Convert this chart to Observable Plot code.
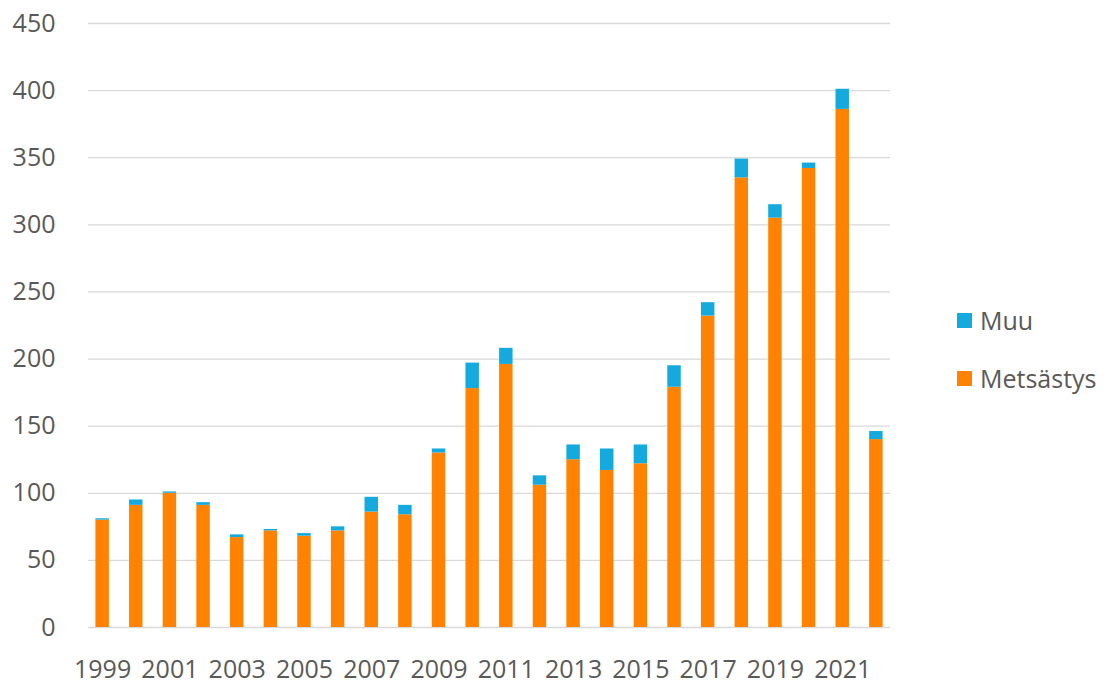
<!DOCTYPE html>
<html>
<head>
<meta charset="utf-8">
<script src="https://cdn.jsdelivr.net/npm/d3@7"></script>
<script src="https://cdn.jsdelivr.net/npm/@observablehq/plot@0.6"></script>
<style>
  body { margin: 0; background: #fff; font-family: "Open Sans", "Noto Sans", sans-serif; }
  #wrap { position: relative; width: 1111px; height: 684px; }
  #legend { position: absolute; left: 957px; top: 303px; color: #595959; font-size: 25px; }
  .item { display: flex; align-items: center; height: 34px; margin-bottom: 24px; }
  .sw { width: 15px; height: 15px; margin-right: 8px; }
</style>
</head>
<body>
<div id="wrap"><div id="chart"></div><div id="legend"></div></div>
<script>
const years = [1999,2000,2001,2002,2003,2004,2005,2006,2007,2008,2009,2010,2011,2012,2013,2014,2015,2016,2017,2018,2019,2020,2021,2022];
const metsastys = [80,91,100,91,67,72,68,72,86,84,130,178,196,106,125,117,122,179,232,335,305,342,386,140];
const muu = [1,4,1,2,2,1,2,3,11,7,3,19,12,7,11,16,14,16,10,14,10,4,15,6];
const series = ["Metsästys", "Muu"];
const colors = ["#ff8300", "#14aadd"];
const yTicks = [0,50,100,150,200,250,300,350,400,450];

const data = [];
years.forEach((y, i) => {
  data.push({year: y, cat: "Metsästys", value: metsastys[i]});
  data.push({year: y, cat: "Muu", value: muu[i]});
});

const chart = Plot.plot({
  width: 920,
  height: 684,
  marginLeft: 88,
  marginRight: 30,
  marginTop: 23,
  marginBottom: 57,
  style: {fontFamily: "'Open Sans', 'Noto Sans', sans-serif", fontSize: "25px", color: "#595959", background: "white"},
  x: {type: "band", domain: years, paddingInner: 0.6, paddingOuter: 0.22, round: false, label: null},
  y: {domain: [0, 450], label: null},
  color: {domain: series, range: colors},
  marks: [
    Plot.ruleY(yTicks, {stroke: "#d9d9d9", strokeWidth: 1.3}),
    Plot.barY(data, {x: "year", y: "value", fill: "cat", order: series}),
    Plot.axisY({ticks: yTicks, tickSize: 0, tickPadding: 33, fontSize: 25, fill: "#595959", label: null}),
    Plot.axisX({tickSize: 0, tickPadding: 33, fontSize: 25, fill: "#595959", label: null,
      tickFormat: d => d % 2 === 1 ? String(d) : ""})
  ]
});
document.getElementById("chart").appendChild(chart);

const legend = document.getElementById("legend");
[["Muu", colors[1]], ["Metsästys", colors[0]]].forEach(([name, c]) => {
  const it = document.createElement("div");
  it.className = "item";
  it.innerHTML = `<div class="sw" style="background:${c}"></div><span>${name}</span>`;
  legend.appendChild(it);
});
</script>
</body>
</html>
